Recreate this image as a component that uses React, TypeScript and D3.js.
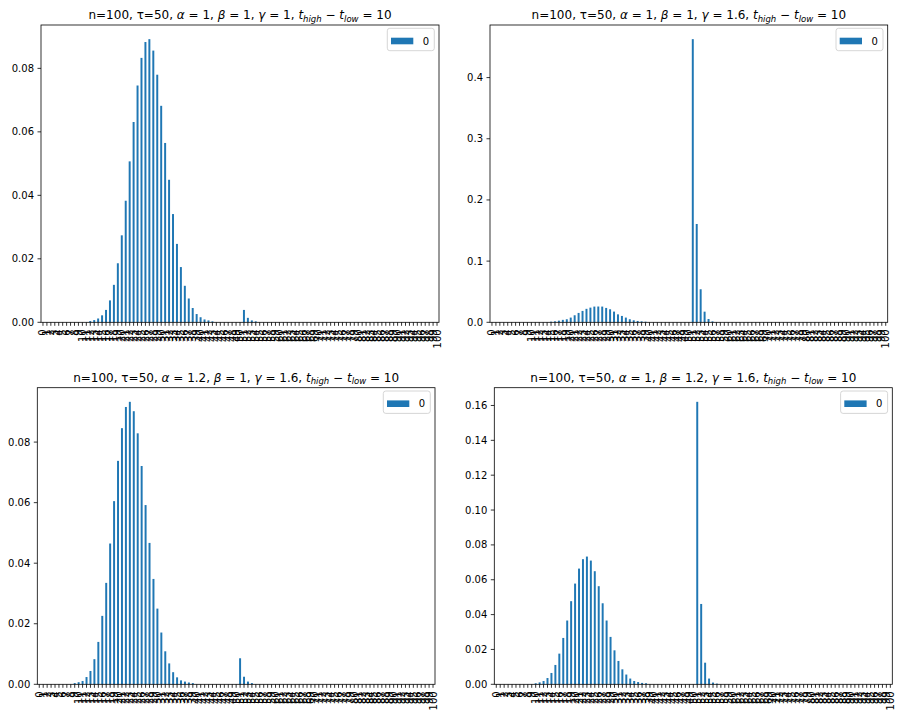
import * as d3 from "d3";

// categories 0..100 (pandas bar index)
const categories: string[] = d3.range(0, 101).map((d) => String(d));

// non-zero runs of each panel: [start index, values...]
const bump1Start = 12;
const bump1 = [0.0004, 0.0007, 0.0012, 0.0022, 0.0039, 0.0069, 0.0118, 0.0186, 0.0274, 0.0383, 0.0507, 0.0631, 0.0746, 0.0833, 0.0883, 0.0892, 0.0856, 0.078, 0.0682, 0.0565, 0.0449, 0.0341, 0.0247, 0.0174, 0.0115, 0.0075, 0.0045, 0.0026, 0.0016, 0.0009, 0.0006, 0.0003];
const spike1Start = 51;
const spike1 = [0.0039, 0.0014, 0.0006, 0.0003];

const bump2Start = 15;
const bump2 = [0.001, 0.0016, 0.0027, 0.004, 0.005, 0.0077, 0.0115, 0.0153, 0.0186, 0.022, 0.024, 0.0257, 0.0258, 0.0257, 0.0235, 0.0213, 0.0175, 0.013, 0.0104, 0.0077, 0.005, 0.0033, 0.0022, 0.0016, 0.001];
const spike2Start = 51;
const spike2 = [0.4628, 0.1607, 0.054, 0.0174, 0.0054, 0.0015];

const bump3Start = 9;
const bump3 = [0.0004, 0.0007, 0.0011, 0.0024, 0.0044, 0.0083, 0.014, 0.0226, 0.0335, 0.0465, 0.0605, 0.0738, 0.0846, 0.0916, 0.0933, 0.0902, 0.0829, 0.0721, 0.0592, 0.0467, 0.0348, 0.025, 0.0171, 0.0109, 0.0069, 0.004, 0.0023, 0.0013, 0.0009, 0.0006, 0.0004];
const spike3Start = 51;
const spike3 = [0.0086, 0.0025, 0.0009, 0.0004];

const bump4Start = 10;
const bump4 = [0.0006, 0.0011, 0.0019, 0.0036, 0.0065, 0.0111, 0.0176, 0.0266, 0.0366, 0.0477, 0.0578, 0.0664, 0.0718, 0.0733, 0.071, 0.0649, 0.0563, 0.0465, 0.0366, 0.0272, 0.0195, 0.0134, 0.0086, 0.0056, 0.0033, 0.0019, 0.0013, 0.0008, 0.0006];
const spike4Start = 51;
const spike4 = [0.1621, 0.0461, 0.0124, 0.0033, 0.001, 0.0004];

const yTicks1 = [0, 0.02, 0.04, 0.06, 0.08];
const yTicks2 = [0, 0.1, 0.2, 0.3, 0.4];
const yTicks3 = [0, 0.02, 0.04, 0.06, 0.08];
const yTicks4 = [0, 0.02, 0.04, 0.06, 0.08, 0.1, 0.12, 0.14, 0.16];

const alphas = ["1", "1", "1.2", "1"];
const betas = ["1", "1", "1", "1.2"];
const gammas = ["1", "1.6", "1.6", "1.6"];

function series(runs: [number, number[]][]): number[] {
  const out = categories.map(() => 0);
  runs.forEach(([start, vals]) => vals.forEach((v, k) => (out[start + k] = v)));
  return out;
}

const panels = [
  { values: series([[bump1Start, bump1], [spike1Start, spike1]]), ticks: yTicks1, fmt: ".2f", box: [41, 439, 25, 322.3] },
  { values: series([[bump2Start, bump2], [spike2Start, spike2]]), ticks: yTicks2, fmt: ".1f", box: [490, 887.7, 25, 322.3] },
  { values: series([[bump3Start, bump3], [spike3Start, spike3]]), ticks: yTicks3, fmt: ".2f", box: [37.3, 435, 387.7, 684.3] },
  { values: series([[bump4Start, bump4], [spike4Start, spike4]]), ticks: yTicks4, fmt: ".2f", box: [494.3, 892.3, 387.7, 684.3] },
];

const blue = "#1f77b4";
const font = "DejaVu Sans, sans-serif";

function Title({ x, y, i }: { x: number; y: number; i: number }) {
  return (
    <text x={x} y={y} textAnchor="middle" fontSize={12} fontFamily={font} fill="#000">
      <tspan>n=100, τ=50, </tspan>
      <tspan fontStyle="italic">α</tspan>
      <tspan>{` = ${alphas[i]}, `}</tspan>
      <tspan fontStyle="italic">β</tspan>
      <tspan>{` = ${betas[i]}, `}</tspan>
      <tspan fontStyle="italic">γ</tspan>
      <tspan>{` = ${gammas[i]}, `}</tspan>
      <tspan fontStyle="italic">t</tspan>
      <tspan fontStyle="italic" fontSize={8.5} dy={2.5}>high</tspan>
      <tspan dy={-2.5}> − </tspan>
      <tspan fontStyle="italic">t</tspan>
      <tspan fontStyle="italic" fontSize={8.5} dy={2.5}>low</tspan>
      <tspan dy={-2.5}> = 10</tspan>
    </text>
  );
}

function Panel({ p, i }: { p: (typeof panels)[number]; i: number }) {
  const [left, right, top, bottom] = p.box;
  const x = d3.scaleBand<string>().domain(categories).range([left, right]).paddingInner(0.5).paddingOuter(0.25);
  const y = d3.scaleLinear().domain([0, (d3.max(p.values) as number) * 1.05]).range([bottom, top]);
  const fmt = d3.format(p.fmt);
  const bw = x.bandwidth();
  const lx = right - 51.7;
  const ly = top + 3.3;
  return (
    <g>
      {p.values.map((v, k) => (
        <rect key={k} x={x(categories[k])} y={y(v)} width={bw} height={bottom - y(v)} fill={blue} />
      ))}
      <rect x={left} y={top} width={right - left} height={bottom - top} fill="none" stroke="#000" strokeWidth={0.8} />
      {categories.map((c) => {
        const cx = (x(c) as number) + bw / 2;
        return (
          <g key={c}>
            <line x1={cx} x2={cx} y1={bottom} y2={bottom + 3.5} stroke="#000" strokeWidth={0.8} />
            <text
              x={cx}
              y={bottom + 7}
              transform={`rotate(-90, ${cx}, ${bottom + 7})`}
              textAnchor="end"
              dominantBaseline="central"
              fontSize={10}
              fontFamily={font}
              fill="#000"
            >
              {c}
            </text>
          </g>
        );
      })}
      {p.ticks.map((t) => (
        <g key={t}>
          <line x1={left - 3.5} x2={left} y1={y(t)} y2={y(t)} stroke="#000" strokeWidth={0.8} />
          <text x={left - 7} y={y(t)} textAnchor="end" dominantBaseline="central" fontSize={10} fontFamily={font} fill="#000">
            {fmt(t)}
          </text>
        </g>
      ))}
      <rect x={lx} y={ly} width={47} height={22.4} rx={2.5} fill="#fff" fillOpacity={0.8} stroke="#cccccc" strokeWidth={0.8} />
      <rect x={lx + 3.7} y={ly + 9.4} width={22.3} height={6.6} fill={blue} />
      <text x={lx + 35.4} y={ly + 12.7} dominantBaseline="central" fontSize={10} fontFamily={font} fill="#000">
        0
      </text>
      <Title x={(left + right) / 2} y={top - 6} i={i} />
    </g>
  );
}

export default function App() {
  return (
    <svg width={900} height={720} style={{ position: "absolute", left: 0, top: 0, background: "#fff" }}>
      <rect width={900} height={720} fill="#fff" />
      {panels.map((p, i) => (
        <Panel key={i} p={p} i={i} />
      ))}
    </svg>
  );
}
